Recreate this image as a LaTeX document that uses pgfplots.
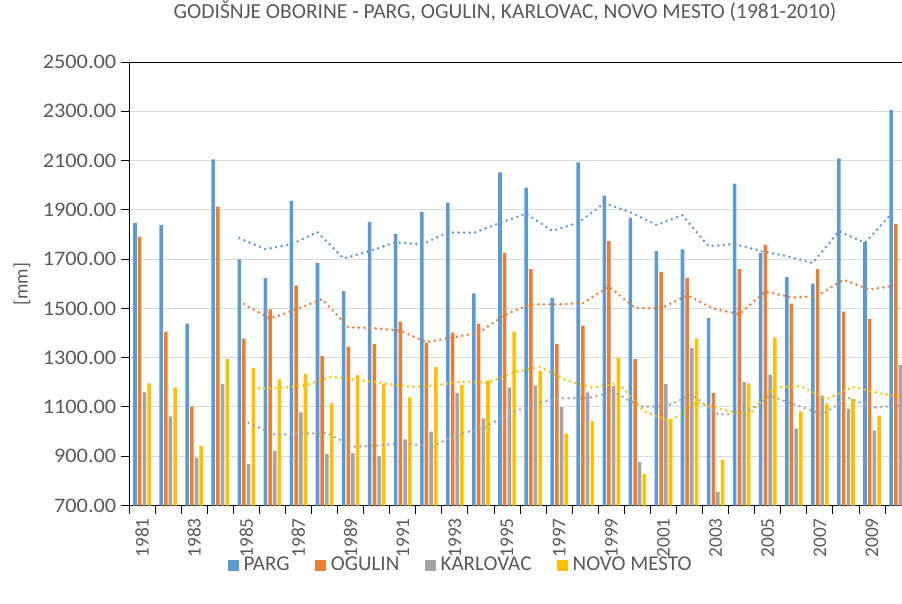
\documentclass[border=0pt]{standalone}
\usepackage{fontspec}
\setmainfont{Carlito}
\newfontfamily\tickfont[FakeStretch=1.08]{Carlito}
\usepackage{pgfplots}
\usepackage{pgfplotstable}
\pgfplotsset{compat=1.18}
\definecolor{cP}{HTML}{5B9BD5}
\definecolor{cO}{HTML}{ED7D31}
\definecolor{cK}{HTML}{A5A5A5}
\definecolor{cN}{HTML}{FFC000}
\definecolor{txt}{HTML}{595959}
\definecolor{gridc}{HTML}{D9D9D9}

\pgfplotstableread{
x year parg ogulin karlovac novo
0  1981 1846 1791 1159 1196
1  1982 1838 1406 1062 1179
2  1983 1438 1101 894  942
3  1984 2105 1913 1193 1294
4  1985 1699 1377 868  1258
5  1986 1623 1496 922  1212
6  1987 1936 1593 1078 1233
7  1988 1685 1307 910  1115
8  1989 1570 1345 913  1229
9  1990 1850 1356 899  1193
10 1991 1802 1446 968  1139
11 1992 1892 1360 1000 1263
12 1993 1928 1402 1157 1189
13 1994 1561 1438 1054 1208
14 1995 2052 1725 1179 1406
15 1996 1990 1659 1188 1245
16 1997 1543 1356 1099 992
17 1998 2093 1430 1159 1042
18 1999 1958 1773 1185 1299
19 2000 1868 1294 876  828
20 2001 1732 1647 1193 1051
21 2002 1740 1625 1340 1377
22 2003 1462 1157 755  886
23 2004 2006 1659 1201 1196
24 2005 1725 1759 1231 1381
25 2006 1627 1519 1012 1082
26 2007 1601 1659 1146 1115
27 2008 2109 1487 1093 1134
28 2009 1769 1458 1004 1065
29 2010 2305 1842 1271 1300
}\data

\pgfplotstableread{
x parg ogulin karlovac novo
4  1785.2 1517.6 1035.2 1173.8
5  1740.6 1458.6 987.8  1177.0
6  1760.2 1496.0 991.0  1187.8
7  1809.6 1537.2 994.2  1222.4
8  1702.6 1423.6 938.2  1209.4
9  1732.8 1419.4 944.4  1196.4
10 1768.6 1409.4 953.6  1181.8
11 1759.8 1362.8 938.0  1187.8
12 1808.4 1381.8 987.4  1202.6
13 1806.6 1400.4 1015.6 1198.4
14 1847.0 1474.2 1071.6 1241.0
15 1884.6 1516.8 1115.6 1262.2
16 1814.8 1516.0 1135.4 1208.0
17 1847.8 1521.6 1135.8 1178.6
18 1927.2 1588.6 1162.0 1196.8
19 1890.4 1502.4 1101.4 1081.2
20 1838.8 1500.0 1102.4 1042.4
21 1878.2 1553.8 1150.6 1119.4
22 1752.0 1499.2 1069.8 1088.2
23 1761.6 1476.4 1073.0 1067.6
24 1733.0 1569.4 1144.0 1178.2
25 1712.0 1543.8 1107.8 1184.4
26 1684.2 1550.6 1069.0 1132.0
27 1813.6 1616.6 1136.6 1181.6
28 1766.2 1576.4 1097.2 1155.4
29 1882.2 1593.0 1105.2 1139.2
}\ma

\pgfplotsset{
  mybar/.style 2 args={ybar, bar width=0.135, bar shift=#2, draw=none, fill=#1, forget plot},
  mytrend/.style={#1, line width=2.1pt, dash pattern=on 0pt off 4.2pt, line cap=round, forget plot},
  sq/.style={legend image code/.code={\fill[#1] (0pt,-3.75pt) rectangle (7.5pt,3.75pt);}}
}

\begin{document}
\begin{tikzpicture}
\useasboundingbox (0,0) rectangle (676.5pt,452.25pt);
\begin{axis}[
  at={(96.75pt,73.125pt)}, anchor=south west,
  scale only axis, width=579.75pt, height=332.6pt,
  xmin=-0.5, xmax=29.15, ymin=700, ymax=2500,
  ytick={700,900,...,2500},
  xtick={0,2,...,28},
  xticklabels={1981,1983,1985,1987,1989,1991,1993,1995,1997,1999,2001,2003,2005,2007,2009},
  minor xtick={-0.5,0.5,...,29.5},
  axis x line*=box, axis y line*=left,
  axis line style={-, black, line width=0.75pt},
  xtick pos=left, ytick pos=left,
  tick align=outside,
  major tick length=6pt, minor tick length=6pt,
  every major x tick/.append style={draw=none},
  every minor x tick/.append style={black, line width=0.75pt},
  every major y tick/.append style={black, line width=0.75pt},
  ymajorgrids, major grid style={gridc, line width=0.75pt},
  /pgf/number format/fixed, /pgf/number format/fixed zerofill,
  /pgf/number format/precision=2, /pgf/number format/1000 sep={},
  /pgf/number format/assume math mode=true,
  yticklabel style={font=\tickfont\fontsize{15.5}{18}\selectfont, text=txt},
  xticklabel style={rotate=90, anchor=east, font=\fontsize{14.5}{18}\selectfont, text=txt},
  title={GODIŠNJE OBORINE - PARG, OGULIN, KARLOVAC, NOVO MESTO (1981-2010)},
  title style={at={(0.4864,1.0958)}, anchor=center, font=\fontsize{16.1}{19}\selectfont, text=txt},
  ylabel={[mm]},
  ylabel style={at={(-0.1384,0.4994)}, anchor=center, rotate=0, font=\fontsize{14.5}{18}\selectfont, text=txt},
  legend style={at={(0.4295,-0.134)}, anchor=center, draw=none, fill=none,
    legend columns=4, font=\fontsize{15.8}{18}\selectfont, text=txt,
    /tikz/every even column/.append style={column sep=17pt},
    /tikz/every odd column/.append style={column sep=2pt}},
  legend cell align=left,
]
\addplot[mybar={cP}{-0.27}] table[x=x, y=parg] {\data};
\addplot[mybar={cO}{-0.09}] table[x=x, y=ogulin] {\data};
\addplot[mybar={cK}{0.09}] table[x=x, y=karlovac] {\data};
\addplot[mybar={cN}{0.27}] table[x=x, y=novo] {\data};
\addplot[mytrend=cP] table[x expr=\thisrow{x}-0.27, y=parg] {\ma};
\addplot[mytrend=cO] table[x expr=\thisrow{x}-0.09, y=ogulin] {\ma};
\addplot[mytrend=cK] table[x expr=\thisrow{x}+0.09, y=karlovac] {\ma};
\addplot[mytrend=cN] table[x expr=\thisrow{x}+0.27, y=novo] {\ma};
\addlegendimage{sq=cP}
\addlegendimage{sq=cO}
\addlegendimage{sq=cK}
\addlegendimage{sq=cN}
\legend{PARG, OGULIN, KARLOVAC, NOVO MESTO}
\end{axis}
\end{tikzpicture}
\end{document}
